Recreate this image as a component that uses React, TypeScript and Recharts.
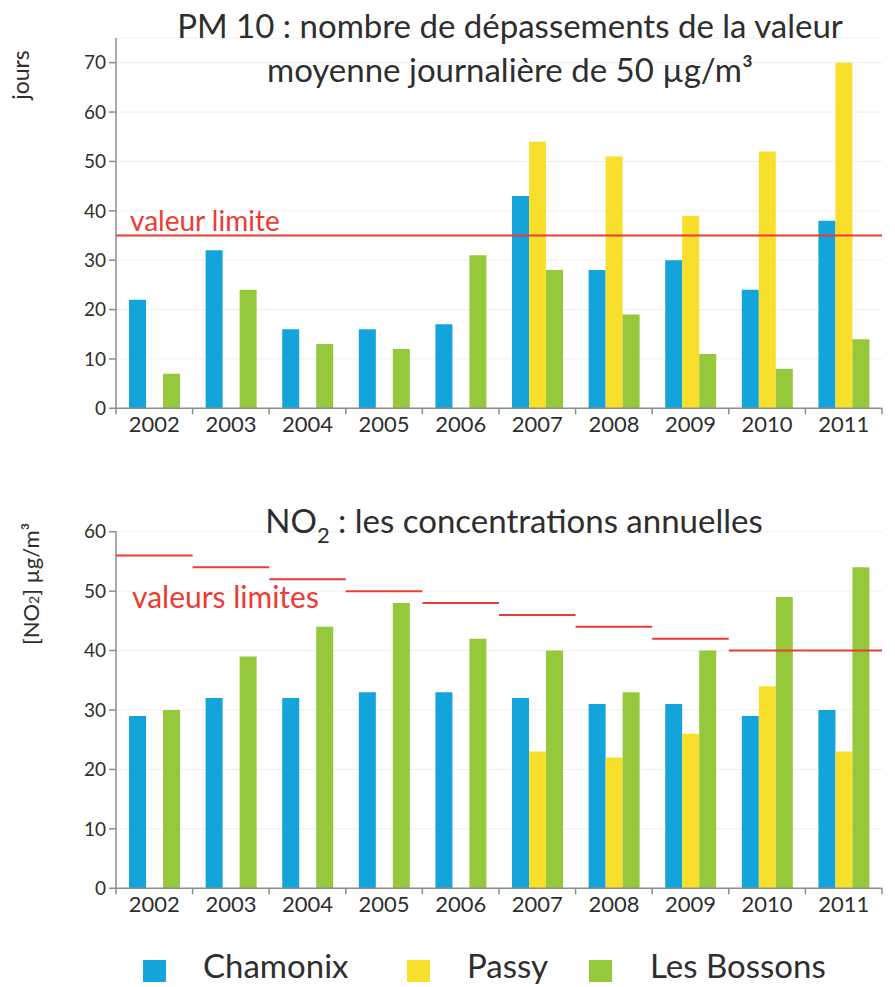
import { ComposedChart, Bar, Scatter, XAxis, YAxis, CartesianGrid, ReferenceLine } from 'recharts'

const years = ['2002', '2003', '2004', '2005', '2006', '2007', '2008', '2009', '2010', '2011']

// PM10 : jours de dépassement
const pm10Chamonix = [22, 32, 16, 16, 17, 43, 28, 30, 24, 38]
const pm10Passy = [null, null, null, null, null, 54, 51, 39, 52, 70]
const pm10Bossons = [7, 24, 13, 12, 31, 28, 19, 11, 8, 14]
const pm10Limit = 35
const pm10Ticks = [0, 10, 20, 30, 40, 50, 60, 70]

// NO2 : concentrations annuelles (µg/m³)
const no2Chamonix = [29, 32, 32, 33, 33, 32, 31, 31, 29, 30]
const no2Passy = [null, null, null, null, null, 23, 22, 26, 34, 23]
const no2Bossons = [30, 39, 44, 48, 42, 40, 33, 40, 49, 54]
const no2Limits = [56, 54, 52, 50, 48, 46, 44, 42, 40, 40]
const no2Ticks = [0, 10, 20, 30, 40, 50, 60]

const BLUE = '#12a4da'
const YELLOW = '#f8df2c'
const GREEN = '#95c83a'
const RED = '#ec3b35'
const AXIS = '#8c8c8c'
const TEXT = '#2e2e2e'
const FONT = "Lato, 'Open Sans', sans-serif"

const W = 895
const H = 445
const Y_AXIS_W = 116
const M_RIGHT = 13
const band = (W - Y_AXIS_W - M_RIGHT) / years.length

const pm10Data = years.map((y, i) => ({
  year: y,
  chamonix: pm10Chamonix[i],
  passy: pm10Passy[i],
  bossons: pm10Bossons[i],
}))

const no2Data = years.map((y, i) => ({
  year: y,
  chamonix: no2Chamonix[i],
  passy: no2Passy[i],
  bossons: no2Bossons[i],
  limit: no2Limits[i],
}))

// tick des années : petits traits aux limites des catégories
function YearTick(props: any) {
  const { x, y, payload, index } = props
  const left = x - band / 2
  return (
    <g>
      <line x1={left} x2={left} y1={y} y2={y + 6} stroke={AXIS} strokeWidth={1.5} />
      {index === years.length - 1 && (
        <line x1={x + band / 2} x2={x + band / 2} y1={y} y2={y + 6} stroke={AXIS} strokeWidth={1.5} />
      )}
      <text x={x} y={y + 24} textAnchor="middle" fill={TEXT} fontSize={22} fontFamily={FONT}>
        {payload.value}
      </text>
    </g>
  )
}

// palier de valeur limite, sur toute la largeur de l'année
function LimitStep(props: any) {
  const { cx, cy } = props
  if (cx == null || cy == null) return <g />
  return <line x1={cx - band / 2} x2={cx + band / 2} y1={cy} y2={cy} stroke={RED} strokeWidth={2} />
}

const yAxisProps = {
  width: Y_AXIS_W,
  tickSize: 7,
  tickMargin: 3,
  interval: 0 as const,
  axisLine: { stroke: AXIS, strokeWidth: 1.5 },
  tickLine: { stroke: AXIS, strokeWidth: 1.5 },
  tick: { fill: TEXT, fontSize: 19, fontFamily: FONT },
}

const xAxisProps = {
  dataKey: 'year',
  height: 36.7,
  tickSize: 0,
  tickMargin: 0,
  interval: 0 as const,
  axisLine: { stroke: AXIS, strokeWidth: 1.5 },
  tickLine: false,
  tick: (p: any) => <YearTick {...p} />,
}

export default function App() {
  return (
    <div style={{ position: 'absolute', left: 0, top: 0, width: W, height: 987, background: '#fff', fontFamily: FONT }}>
      <div style={{ position: 'absolute', left: 0, top: 0 }}>
        <ComposedChart
          width={W}
          height={H}
          data={pm10Data}
          margin={{ top: 38, right: M_RIGHT, left: 0, bottom: 0 }}
          barCategoryGap="17%"
          barGap={0}
        >
          <CartesianGrid vertical={false} stroke="#efefef" />
          <XAxis {...xAxisProps} />
          <YAxis {...yAxisProps} domain={[0, 75]} ticks={pm10Ticks} />
          <Bar dataKey="chamonix" fill={BLUE} isAnimationActive={false} />
          <Bar dataKey="passy" fill={YELLOW} isAnimationActive={false} />
          <Bar dataKey="bossons" fill={GREEN} isAnimationActive={false} />
          <ReferenceLine
            y={pm10Limit}
            stroke={RED}
            strokeWidth={2}
            label={(p: any) => (
              <text x={p.viewBox.x + 14} y={p.viewBox.y - 4} fill={RED} fontSize={28} fontFamily={FONT}>
                valeur limite
              </text>
            )}
          />
        </ComposedChart>
      </div>

      <div style={{ position: 'absolute', left: 0, top: 480 }}>
        <ComposedChart
          width={W}
          height={H}
          data={no2Data}
          margin={{ top: 51.7, right: M_RIGHT, left: 0, bottom: 0 }}
          barCategoryGap="17%"
          barGap={0}
        >
          <CartesianGrid vertical={false} stroke="#efefef" />
          <XAxis {...xAxisProps} />
          <YAxis {...yAxisProps} domain={[0, 60]} ticks={no2Ticks} />
          <Bar dataKey="chamonix" fill={BLUE} isAnimationActive={false} />
          <Bar dataKey="passy" fill={YELLOW} isAnimationActive={false} />
          <Bar dataKey="bossons" fill={GREEN} isAnimationActive={false} />
          <Scatter dataKey="limit" shape={(p: any) => <LimitStep {...p} />} isAnimationActive={false} />
        </ComposedChart>
      </div>

      <svg width={W} height={987} style={{ position: 'absolute', left: 0, top: 0, pointerEvents: 'none' }} fontFamily={FONT}>
        <text x={510} y={38} textAnchor="middle" fill={TEXT} fontSize={33}>
          PM 10 : nombre de dépassements de la valeur
        </text>
        <text x={510} y={82} textAnchor="middle" fill={TEXT} fontSize={33}>
          moyenne journalière de 50 µg/m³
        </text>
        <text x={29} y={75} textAnchor="middle" fill={TEXT} fontSize={23} transform="rotate(-90 29 75)">
          jours
        </text>

        <text x={514} y={533} textAnchor="middle" fill={TEXT} fontSize={33}>
          NO<tspan fontSize={22} dy={10}>2</tspan>
          <tspan dy={-10}> : les concentrations annuelles</tspan>
        </text>
        <text x={39} y={584} textAnchor="middle" fill={TEXT} fontSize={22} transform="rotate(-90 39 584)">
          [NO<tspan fontSize={14}>2</tspan>] µg/m³
        </text>
        <text x={132} y={608} fill={RED} fontSize={30}>
          valeurs limites
        </text>

        <rect x={143} y={960} width={23} height={22} fill={BLUE} />
        <text x={203} y={978} fill={TEXT} fontSize={33}>Chamonix</text>
        <rect x={407} y={960} width={23} height={22} fill={YELLOW} />
        <text x={467} y={978} fill={TEXT} fontSize={33}>Passy</text>
        <rect x={589} y={960} width={23} height={22} fill={GREEN} />
        <text x={650} y={978} fill={TEXT} fontSize={33}>Les Bossons</text>
      </svg>
    </div>
  )
}
